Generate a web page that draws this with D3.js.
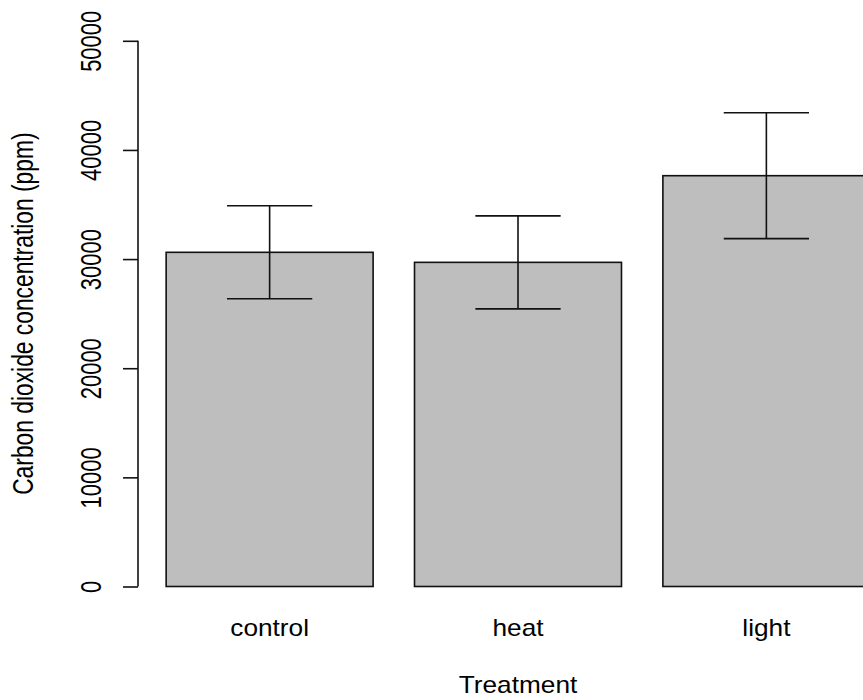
<!DOCTYPE html>
<html>
<head>
<meta charset="utf-8">
<script src="https://cdn.jsdelivr.net/npm/d3@7"></script>
<style>
  html, body { margin: 0; padding: 0; background: #fff; }
  svg { display: block; }
  text { font-family: "Liberation Sans", Arial, sans-serif; fill: #000; }
</style>
</head>
<body>
<svg id="chart" width="863" height="700"></svg>
<script>
// ---- data ----
const categories = ["control", "heat", "light"];
const means = [30620, 29700, 37640];
const errors = [4260, 4260, 5770];
const yTicks = [0, 10000, 20000, 30000, 40000, 50000];
const xTitle = "Treatment";
const yTitle = "Carbon dioxide concentration (ppm)";

// ---- layout ----
const W = 863, H = 700;
const svg = d3.select("#chart");

// bar positions in R barplot units (width 1, space 0.2)
const barLeft = categories.map((c, i) => 0.2 + 1.2 * i);
const x = d3.scaleLinear().domain([0.064, 3.736]).range([138, 898]);
const y = d3.scaleLinear().domain([0, 50000]).range([586.5, 40.8]);

const hScale = 1.14;   // horizontal text stretch
const rScale = 1.3;    // rotated text stretch
const fontSize = 23;

// bars
svg.append("g").selectAll("rect")
  .data(categories)
  .join("rect")
  .attr("x", (d, i) => x(barLeft[i]))
  .attr("y", (d, i) => y(means[i]))
  .attr("width", (d, i) => x(barLeft[i] + 1) - x(barLeft[i]))
  .attr("height", (d, i) => y(0) - y(means[i]))
  .attr("fill", "#bebebe")
  .attr("stroke", "#111")
  .attr("stroke-width", 1.6);

// error bars
const capHalf = 0.206;
const eg = svg.append("g").attr("stroke", "#111").attr("stroke-width", 1.6).attr("fill", "none");
categories.forEach((c, i) => {
  const cx = x(barLeft[i] + 0.5);
  const top = y(means[i] + errors[i]);
  const bot = y(means[i] - errors[i]);
  eg.append("line").attr("x1", cx).attr("x2", cx).attr("y1", top).attr("y2", bot);
  eg.append("line").attr("x1", x(barLeft[i] + 0.5 - capHalf)).attr("x2", x(barLeft[i] + 0.5 + capHalf))
    .attr("y1", top).attr("y2", top);
  eg.append("line").attr("x1", x(barLeft[i] + 0.5 - capHalf)).attr("x2", x(barLeft[i] + 0.5 + capHalf))
    .attr("y1", bot).attr("y2", bot);
});

// y axis
const yAxis = d3.axisLeft(y).tickValues(yTicks).tickSize(15).tickSizeOuter(0).tickFormat(d3.format("d"));
const ga = svg.append("g").attr("transform", "translate(138,0)").call(yAxis);
ga.select(".domain").attr("stroke", "#111").attr("stroke-width", 1.6)
  .attr("d", `M0,${y(0)}V${y(50000)}`);
ga.selectAll(".tick line").attr("stroke", "#111").attr("stroke-width", 1.6);
ga.selectAll(".tick text").remove();
ga.selectAll(".tick").append("text")
  .attr("transform", "translate(-37.5,0) rotate(-90) scale(1," + rScale + ")")
  .attr("text-anchor", "middle")
  .attr("font-size", 22)
  .attr("fill", "#000")
  .text(d => d3.format("d")(d));

// x labels
svg.append("g").selectAll("text")
  .data(categories)
  .join("text")
  .attr("transform", (d, i) => `translate(${x(barLeft[i] + 0.5)},636) scale(${hScale},1)`)
  .attr("text-anchor", "middle")
  .attr("font-size", fontSize)
  .text(d => d);

// x title
svg.append("text")
  .attr("transform", `translate(${x(1.9)},692.5) scale(${hScale},1)`)
  .attr("text-anchor", "middle")
  .attr("font-size", fontSize)
  .text(xTitle);

// y title
svg.append("text")
  .attr("transform", `translate(33.3,${(y(0) + y(50000)) / 2}) rotate(-90) scale(1,${rScale})`)
  .attr("text-anchor", "middle")
  .attr("font-size", 22.8)
  .text(yTitle);
</script>
</body>
</html>
